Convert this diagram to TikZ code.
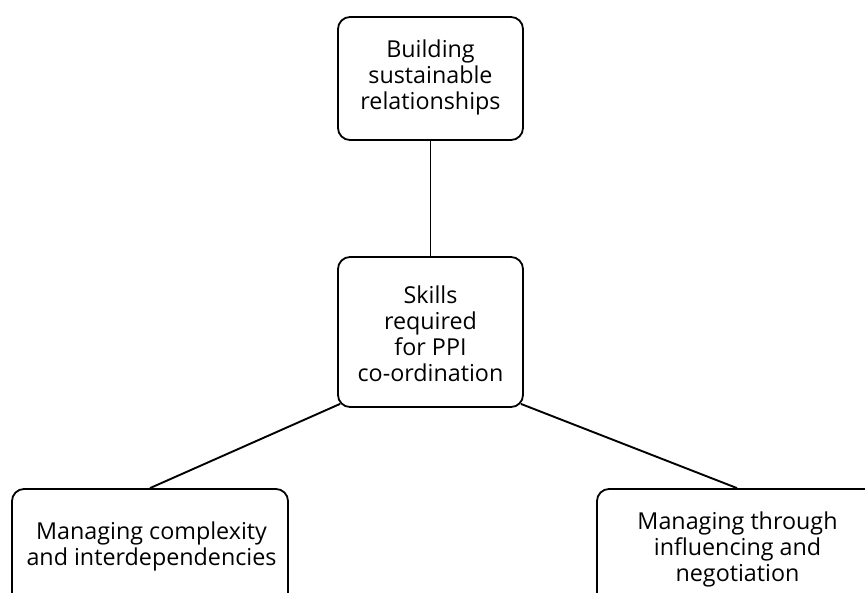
\documentclass[tikz,border=0pt]{standalone}
\usepackage{fontspec}
\setmainfont{Open Sans}
\usetikzlibrary{calc}
\begin{document}
\begin{tikzpicture}[x=1pt,y=-1pt,
  box/.style={draw, line width=1.8pt, rounded corners=12pt, inner sep=0pt},
  lbl/.style={align=center, inner sep=0pt, font=\fontsize{23.3}{26}\selectfont},
  link/.style={line width=1.9pt}]
\clip (0,0) rectangle (865,592);
\fill[white] (0,0) rectangle (865,592);
\node[box, minimum width=185pt, minimum height=123pt] (t) at (430.5,78.5) {};
\node[lbl] (tt) at (430.5,77) {Building\\sustainable\\relationships};
\node[box, minimum width=185pt, minimum height=150pt] (c) at (430.5,332) {};
\node[lbl] (ct) at (430.5,333.5) {Skills\\required\\for PPI\\co-ordination};
\node[box, minimum width=276pt, minimum height=120pt] (l) at (150,549) {};
\node[lbl] (lt) at (151.5,546) {Managing complexity\\and interdependencies};
\node[box, minimum width=280pt, minimum height=120pt] (r) at (737,549) {};
\node[lbl] (rt) at (737.5,549) {Managing through\\influencing and\\negotiation};
\coordinate (cl) at ($(c.south west)+(3,-4)$);
\coordinate (cr) at ($(c.south east)+(-3,-4)$);
\draw[link] (t.south) -- (c.north);
\draw[link] (cl) -- (l.north);
\draw[link] (cr) -- (r.north);
\end{tikzpicture}
\end{document}
